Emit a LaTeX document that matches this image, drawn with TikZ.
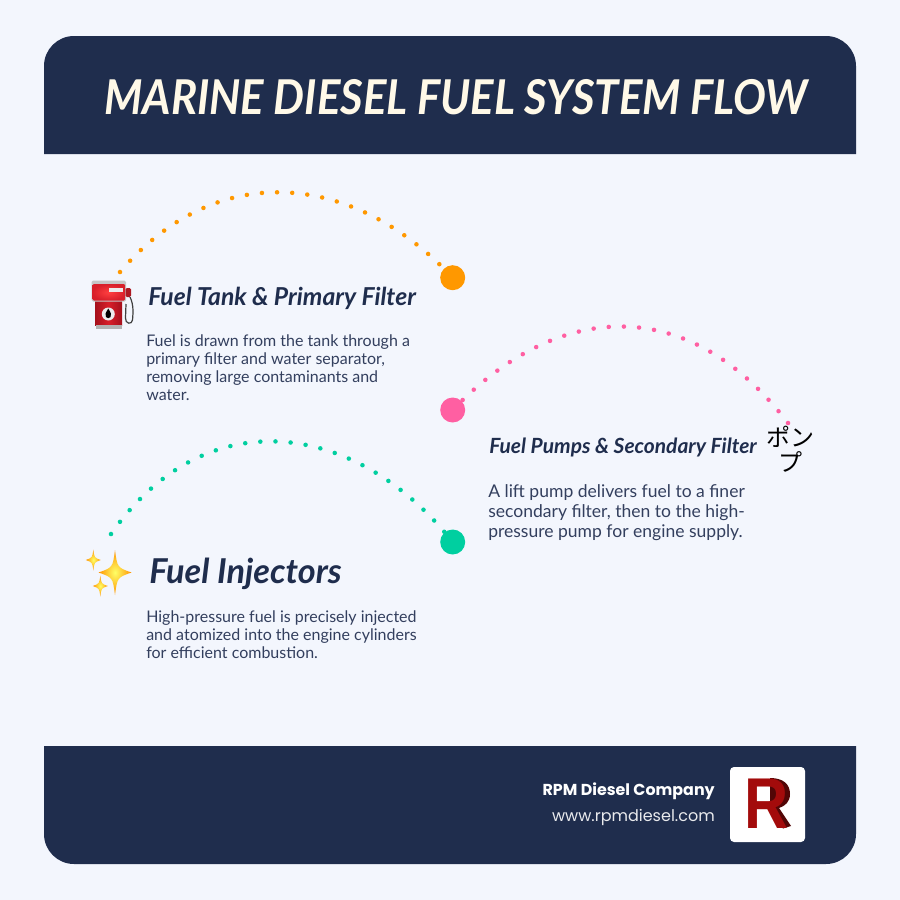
\documentclass[tikz,border=0pt]{standalone}
\usepackage{fontspec}
\usepackage{xcolor}
\setmainfont{Lato}
\newfontfamily\popfont{Poppins}
\newfontfamily\jpfont{Noto Sans CJK JP}
\newfontfamily\logofont{Liberation Sans}
\definecolor{navy}{HTML}{1F2D4D}
\definecolor{pagebg}{HTML}{F3F6FD}
\definecolor{bodyink}{HTML}{333F5E}
\definecolor{creamink}{HTML}{FFF9E8}
\definecolor{dotorange}{HTML}{FF9800}
\definecolor{dotpink}{HTML}{FF5FA2}
\definecolor{dotgreen}{HTML}{00CFA0}
\definecolor{pumpred}{HTML}{D81F2A}
\definecolor{pumpdark}{HTML}{A5101C}
\definecolor{logored}{HTML}{A30B0B}
\tikzset{
 bigdot/.style={circle,minimum size=18.75pt,inner sep=0pt,fill=#1},
 arcline/.style={draw=#1,line width=3.4pt,line cap=round,dash pattern=on 0pt off 11.37pt},
 headtext/.style={anchor=west,inner sep=0pt,text=navy,font=\bfseries\itshape\fontsize{#1}{#1}\selectfont},
 bodytext/.style={anchor=north west,inner sep=0pt,align=left,text=bodyink,font=\fontsize{12}{13.5}\selectfont},
}
\newcommand{\sparkle}[4]{%
 \shade[inner color=yellow!60!white,outer color=orange!85!yellow] (#1,#2-#4) .. controls (#1+.14*#3,#2-.22*#4) .. (#1+#3,#2) .. controls (#1+.14*#3,#2+.22*#4) .. (#1,#2+#4) .. controls (#1-.14*#3,#2+.22*#4) .. (#1-#3,#2) .. controls (#1-.14*#3,#2-.22*#4) .. cycle;}
\begin{document}
\begin{tikzpicture}[x=0.75pt,y=-0.75pt]
\useasboundingbox (0,0) rectangle (900,900);
\fill[pagebg] (0,0) rectangle (900,900);
\fill[navy] (44,154) [rounded corners=22.5pt] -- (44,36) -- (856,36) [sharp corners] -- (856,154) -- cycle;
\fill[navy] (856,746) [rounded corners=22.5pt] -- (856,864) -- (44,864) [sharp corners] -- (44,746) -- cycle;
\node[inner sep=0pt,text=creamink,xscale=.91,font=\bfseries\itshape\fontsize{36}{36}\selectfont] (title) at (456,97) {MARINE DIESEL FUEL SYSTEM FLOW};

\node[bigdot=dotorange] (dotA) at (452.7,277.7) {};
\node[bigdot=dotpink] (dotB) at (452.7,410) {};
\node[bigdot=dotgreen] (dotC) at (452.7,542) {};
\coordinate (startA) at (120,272);
\coordinate (startB) at (788,423);
\coordinate (startC) at (111,534);
\draw[arcline=dotorange] (startA) .. controls (218,157) and (355,173) .. (dotA.center);
\draw[arcline=dotpink] (startB) .. controls (686,290) and (555,303) .. (dotB.center);
\draw[arcline=dotgreen] (startC) .. controls (206.5,397.5) and (357.5,421.7) .. (dotC.center);

\shade[left color=pumpdark,right color=pumpdark,middle color=pumpred] (95,300) rectangle (122,325);
\fill[gray!60] (95.5,325) rectangle (121.5,328.5);
\fill[gray!45,rounded corners=1pt] (91.7,280.7) rectangle (126,301.5);
\shade[rounded corners=1pt,inner color=red!75!white,outer color=pumpred] (92.5,284) rectangle (125.2,300.5);
\fill[white!85!gray] (108.5,288) rectangle (122.5,292);
\fill[white!85!gray] (108.3,314) circle (6.5);
\fill[black] (108.3,308.5) .. controls (111,313) and (112,315) .. (110.5,317) .. controls (109,318.5) and (107.5,318.5) .. (106,317) .. controls (104.5,315) and (105.5,313) .. (108.3,308.5) -- cycle;
\fill[pumpred!80!black,rounded corners=1pt] (125.5,288) rectangle (131,297);
\draw[black!75,line width=0.9pt] (130,297) .. controls (134,305) and (133,314) .. (132.5,320) .. controls (132,325) and (125,324) .. (125.5,318) -- (126,304);

\sparkle{115}{572.5}{16.5}{22.5}
\sparkle{93.3}{560}{7.5}{10.5}
\sparkle{100.3}{586}{7.5}{10.5}

\node[headtext=18.5] (headA) at (148,298) {Fuel Tank \& Primary Filter};
\node[headtext=15.7] (headB) at (489,447) {Fuel Pumps \& Secondary Filter};
\node[headtext=25.7] (headC) at (149,574) {Fuel Injectors};
\node[inner sep=0pt,align=center,text=black,font=\jpfont\fontsize{18}{18.5}\selectfont] (pump) at (790,449) {ポン\\プ};

\node[bodytext] (textA) at (146,334) {Fuel is drawn from the tank through a\\primary filter and water separator,\\removing large contaminants and\\water.};
\node[bodytext,font=\fontsize{13.15}{15}\selectfont] (textB) at (488,484) {A lift pump delivers fuel to a finer\\secondary filter, then to the high-\\pressure pump for engine supply.};
\node[bodytext] (textC) at (146,610) {High-pressure fuel is precisely injected\\and atomized into the engine cylinders\\for efficient combustion.};

\node[anchor=east,inner sep=0pt,text=white,font=\popfont\bfseries\fontsize{11.9}{11.9}\selectfont] (company) at (715,791) {RPM Diesel Company};
\node[anchor=east,inner sep=0pt,text=white!90!navy,font=\popfont\fontsize{12}{12}\selectfont] (site) at (715,817) {www.rpmdiesel.com};
\node[fill=white,rounded corners=3pt,minimum size=56.25pt,inner sep=0pt] (logo) at (767.5,804.5) {};
\fill[logored!50!black] (770,778) .. controls (783,778) and (790,784) .. (790,794) .. controls (790,802) and (785,806) .. (779,808) -- (791,826) -- (783,828.5) -- (770,812) -- cycle;
\node[inner sep=0pt,text=logored,xscale=.85,font=\logofont\bfseries\fontsize{54}{54}\selectfont] (letter) at (766.5,804) {R};
\end{tikzpicture}
\end{document}
